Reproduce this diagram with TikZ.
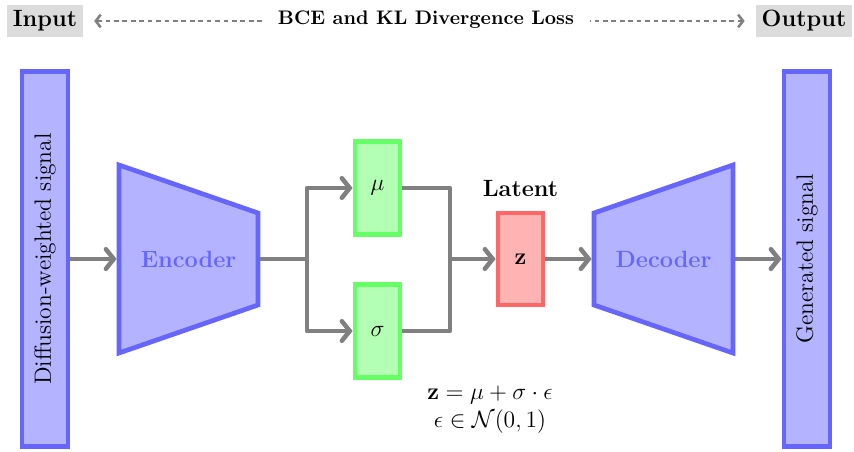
\documentclass[tikz,border=0pt]{standalone}
\usetikzlibrary{arrows.meta}
\definecolor{bfill}{HTML}{B3B3FF}
\definecolor{bdraw}{HTML}{6666FF}
\definecolor{gfill}{HTML}{B3FFB3}
\definecolor{gdraw}{HTML}{66FF66}
\definecolor{rfill}{HTML}{FFB3B3}
\definecolor{rdraw}{HTML}{FF6666}
\definecolor{lgray}{HTML}{DCDCDC}
\definecolor{arr}{HTML}{808080}
\begin{document}
\begin{tikzpicture}[x=0.51pt,y=-0.51pt,
  conn/.style={draw=arr, line width=2.3pt, line join=round, -{Straight Barb[length=4pt,width=10pt,line cap=round]}},
  link/.style={draw=arr, line width=2.3pt, line join=round},
  sigbox/.style={draw=bdraw, fill=bfill, line width=2.4pt, minimum width=23.5pt, minimum height=191.5pt, inner sep=0pt, font=\large},
  varbox/.style={draw=gdraw, fill=gfill, line width=2.4pt, minimum width=23pt, minimum height=47.4pt, inner sep=0pt, font=\large},
  latbox/.style={draw=rdraw, fill=rfill, line width=2.4pt, minimum width=23pt, minimum height=47pt, inner sep=0pt, font=\large},
  tag/.style={fill=lgray, font=\large\bfseries, inner sep=3pt, minimum height=16.8pt},
  blk/.style={draw=bdraw, fill=bfill, line width=2.4pt, line join=miter},
  blklabel/.style={font=\large\bfseries, text=bdraw, minimum width=70.9pt, minimum height=47pt, inner sep=0pt, outer sep=1.2pt}
]
\useasboundingbox (0,0) rectangle (854,451);

% top bar
\node[tag] (in) at (45,21) {Input};
\node[tag] (out) at (804,21) {Output};
\node[font=\bfseries, fill=white, inner xsep=8pt] (loss) at (426,20) {BCE and KL Divergence Loss};
\draw[draw=arr, line width=1.3pt, dash pattern=on 2.4pt off 1.9pt, shorten <=5.5pt, shorten >=5.5pt,
  {Straight Barb[length=2.5pt,width=6.5pt]}-{Straight Barb[length=2.5pt,width=6.5pt]}] (in.east) -- (out.west);
\node[font=\bfseries, fill=white, inner xsep=8pt] at (loss) {BCE and KL Divergence Loss};

% signals
\node[sigbox] (dw) at (45,259) {\rotatebox{90}{Diffusion-weighted signal}};
\node[sigbox] (gen) at (807,259) {\rotatebox{90}{Generated signal}};

% encoder
\draw[blk] (119,165) -- (258,213) -- (258,305) -- (119,353) -- cycle;
\node[blklabel] (enc) at (188.5,259) {Encoder};
% decoder
\draw[blk] (594,213) -- (733,165) -- (733,353) -- (594,305) -- cycle;
\node[blklabel] (dec) at (663.5,259) {Decoder};

% mu, sigma, z
\node[varbox] (mu) at (377.5,188) {$\mu$};
\node[varbox] (sig) at (377.5,331) {$\sigma$};
\node[latbox] (z) at (520.5,259) {$\mathbf{z}$};
\node[font=\large\bfseries, anchor=south] (lat) at (520.5,204) {Latent};

\coordinate (split) at (307,259);
\coordinate (join) at (450,259);

\draw[conn] (dw.east) -- (enc.west);
\draw[link] (enc.east) -- (split);
\draw[conn] (split) |- (mu.west);
\draw[conn] (split) |- (sig.west);
\draw[link] (mu.east) -| (join);
\draw[link] (sig.east) -| (join);
\draw[conn] (join) -- (z.west);
\draw[conn] (z.east) -- (dec.west);
\draw[conn] (dec.east) -- (gen.west);

\node[font=\fontsize{13.2}{14.2}\selectfont, align=center, inner sep=1pt] (eq) at (490,410) {$\mathbf{z}=\mu+\sigma\cdot\epsilon$\\$\epsilon\in\mathcal{N}(0,1)$};
\end{tikzpicture}
\end{document}
